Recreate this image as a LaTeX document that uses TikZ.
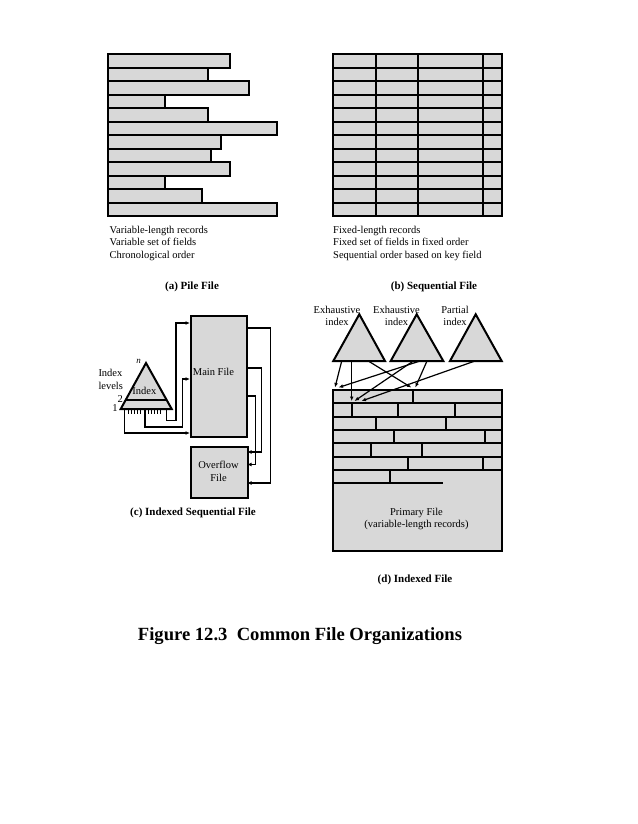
\documentclass[tikz,border=0pt]{standalone}
\usepackage{fontspec}
\setmainfont{Liberation Serif}
\usetikzlibrary{arrows.meta}
\definecolor{recgray}{RGB}{216,216,216}
\begin{document}
\begin{tikzpicture}[x=1pt,y=-1pt,
  rec/.style={draw=black,fill=recgray,line width=2pt,line join=miter},
  recnode/.style={rec,inner sep=0pt,anchor=north west},
  sepline/.style={draw=black,line width=2pt},
  txt/.style={font=\fontsize{10.5}{12}\selectfont,inner sep=0pt},
  captxt/.style={font=\fontsize{11}{13}\selectfont\bfseries,inner sep=0pt},
  conn/.style={draw=black,line width=1.4pt},
  arr/.style={conn,-{Latex[length=4.5pt,width=3.8pt]}},
  tickline/.style={draw=black,line width=1pt}
]
\useasboundingbox (0,0) rectangle (637,824);

% ---------- (a) Pile file ----------
\foreach \r [count=\i from 0] in {230,208,249,165,208,277,221,211,230,165,202,277}
  \draw[rec] (108,{round(54.3+13.5*\i)}) rectangle (\r,{round(54.3+13.5*(\i+1))});
\node[txt,anchor=base west] (pa1) at (109.5,233) {Variable-length records};
\node[txt,anchor=base west] (pa2) at (109.5,245.5) {Variable set of fields};
\node[txt,anchor=base west] (pa3) at (109.5,258) {Chronological order};
\node[captxt,anchor=base] (capa) at (192,289.5) {(a) Pile File};

% ---------- (b) Sequential file ----------
\draw[rec] (333,54) rectangle (502,216);
\foreach \i in {1,...,11}
  \draw[sepline] (333,{round(54.3+13.5*\i)}) -- (502,{round(54.3+13.5*\i)});
\foreach \x in {376,418,483}
  \draw[sepline] (\x,54) -- (\x,216);
\node[txt,anchor=base west] (pb1) at (333,233) {Fixed-length records};
\node[txt,anchor=base west] (pb2) at (333,245.5) {Fixed set of fields in fixed order};
\node[txt,anchor=base west] (pb3) at (333,258) {Sequential order based on key field};
\node[captxt,anchor=base] (capb) at (434,289.5) {(b) Sequential File};

% ---------- (c) Indexed sequential file ----------
\node[recnode,minimum width=56pt,minimum height=121pt] (main) at (190,315) {};
\node[txt,anchor=base] (mainlbl) at (213.5,375) {Main File};
\node[recnode,minimum width=57pt,minimum height=51pt] (over) at (190,446) {};
\node[txt,align=center,font=\fontsize{10.5}{12.7}\selectfont] (overlbl) at (218.5,471.5) {Overflow\\File};

% index triangle
\coordinate (apex) at (146,363);
\coordinate (bl) at (120.7,409);
\coordinate (br) at (171.7,409);
\draw[rec] (apex) -- (br) -- (bl) -- cycle;
\draw[sepline] (125.9,400) -- (166.5,400);
\node[txt,anchor=base] (idxlbl) at (144.3,394) {Index};
\node[txt,font=\fontsize{9}{10}\selectfont\itshape,anchor=base] (nlbl) at (138.5,363) {n};
\node[txt,anchor=base] (l2) at (120.3,402.5) {2};
\node[txt,anchor=base] (l1) at (115,411.5) {1};
\node[txt,anchor=base west] (il1) at (98.3,376.8) {Index};
\node[txt,anchor=base west] (il2) at (98.3,389.5) {levels};
\foreach \x in {128.5,131.5,134.5,137.5,140.5,148.5,151.5,154.5,157.5,160.5}
  \draw[tickline] (\x,409) -- (\x,414);

% index -> main file
\coordinate (i0) at (124.5,409);
\coordinate (iA) at (145,409);
\coordinate (iB) at (166.5,409);
\coordinate (mA) at (190,379);
\coordinate (mB) at (190,323);
\coordinate (m0) at (190,433);
\draw[arr] (i0) |- (m0);
\draw[arr] (iA) -- (145,427) -- (182.5,427) |- (mA);
\draw[arr] (iB) -- (166.5,420.5) -- (176,420.5) |- (mB);

% main file -> overflow
\coordinate (e1) at (246,328);
\coordinate (e2) at (246,368);
\coordinate (e3) at (246,396);
\coordinate (o1) at (247,483);
\coordinate (o2) at (247,452);
\coordinate (o3) at (247,464.5);
\draw[arr] (e1) -- (270.5,328) |- (o1);
\draw[arr] (e2) -- (261.5,368) |- (o2);
\draw[arr] (e3) -- (255.5,396) |- (o3);
\node[captxt,anchor=base] (capc) at (193,515.5) {(c) Indexed Sequential File};

% ---------- (d) Indexed file ----------
\draw[rec] (359.3,314.3) -- (385,361) -- (333.3,361) -- cycle;
\draw[rec] (416.7,314.3) -- (443.3,361) -- (390.7,361) -- cycle;
\draw[rec] (475.7,314.3) -- (501.7,361) -- (450,361) -- cycle;
\node[txt,align=center,font=\fontsize{10.5}{11.7}\selectfont] (t1lbl) at (337,316) {Exhaustive\\index};
\node[txt,align=center,font=\fontsize{10.5}{11.7}\selectfont] (t2lbl) at (396.5,316) {Exhaustive\\index};
\node[txt,align=center,font=\fontsize{10.5}{11.7}\selectfont] (t3lbl) at (455,316) {Partial\\index};

% primary file
\draw[rec] (333,390) rectangle (502,551);
\foreach \y in {403,417,430,443,457,470}
  \draw[sepline] (333,\y) -- (502,\y);
\draw[sepline] (333,483) -- (443,483);
\draw[sepline] (413,390) -- (413,403);
\foreach \x in {352,398,455} \draw[sepline] (\x,403) -- (\x,417);
\foreach \x in {376,446} \draw[sepline] (\x,417) -- (\x,430);
\foreach \x in {394,485} \draw[sepline] (\x,430) -- (\x,443);
\foreach \x in {371,422} \draw[sepline] (\x,443) -- (\x,457);
\foreach \x in {408,483} \draw[sepline] (\x,457) -- (\x,470);
\draw[sepline] (390,470) -- (390,483);
\node[txt,align=center,font=\fontsize{10.5}{12.2}\selectfont] (primlbl) at (416.5,519) {Primary File\\(variable-length records)};

% index pointers
\coordinate (s1) at (341.7,361);
\coordinate (s2) at (351.7,361);
\coordinate (s3) at (368.3,361);
\coordinate (s4) at (420,361);
\coordinate (s5) at (413.3,361);
\coordinate (s6) at (427,361);
\coordinate (s7) at (475,361);
\coordinate (d1) at (335,387.5);
\coordinate (d2) at (351.7,401);
\coordinate (d3) at (411.3,387.5);
\coordinate (d4) at (338.5,387.5);
\coordinate (d5) at (354.5,401);
\coordinate (d6) at (415.3,387.5);
\coordinate (d7) at (361.5,401);
\foreach \a/\b in {s1/d1,s2/d2,s3/d3,s4/d4,s5/d5,s6/d6,s7/d7}
  \draw[arr,line width=1.2pt] (\a) -- (\b);

\node[captxt,anchor=base] (capd) at (415,582) {(d) Indexed File};

% ---------- title ----------
\node[inner sep=0pt,font=\fontsize{18.6}{22}\selectfont\bfseries] (title) at (300,636) {Figure 12.3\ \ Common File Organizations};
\end{tikzpicture}
\end{document}
